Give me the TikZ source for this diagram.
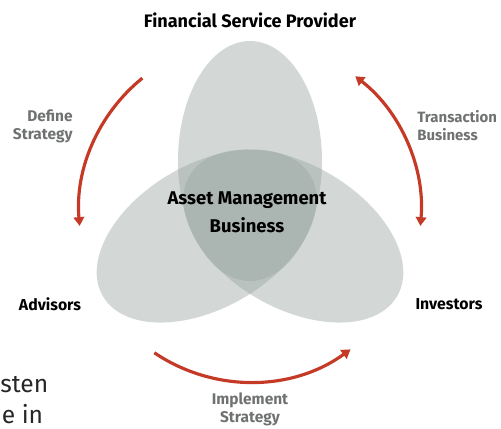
\documentclass[tikz,border=0pt]{standalone}
\usepackage{fontspec}
\setmainfont{Fira Sans}
\usetikzlibrary{positioning,arrows.meta}
\definecolor{petalgray}{RGB}{150,163,158}
\definecolor{flowred}{RGB}{196,58,38}
\definecolor{labelgray}{RGB}{112,114,114}
\tikzset{%
  >={Triangle[width=6pt,length=5pt]},
  petal/.style={fill=petalgray,fill opacity=.42},
  flow/.style={draw=flowred,line width=1.8pt,->},
  phase/.style={color=labelgray,font=\fontsize{8.8}{10.2}\selectfont\bfseries,inner sep=0pt},
  party/.style={font=\fontsize{9}{10.2}\selectfont\bfseries,inner sep=0pt},
  core/.style={font=\fontsize{10.5}{16}\selectfont\bfseries,align=center,inner sep=0pt},
  body/.style={color=black!85,font=\fontsize{14}{17}\selectfont,inner sep=0pt,anchor=west}
}

\begin{document}
\begin{tikzpicture}
  \useasboundingbox (-5.0,-4.34) rectangle (5.02,4.22);
  \coordinate (C) at (0,0);

  % three petals
  \foreach \a in {0,120,240}
    \fill[petal,rotate=\a] (0,1) ellipse (1.44 and 2.4);

  \node[core] (amb) at (-0.06,-0.02) {Asset Management\\Business};

  \node[party,font=\fontsize{10.3}{12}\selectfont\bfseries] (fsp) at (0,3.82) {Financial Service Provider};
  \node[party] (adv) at (-4.0,-1.86) {Advisors};
  \node[party] (inv) at (3.98,-1.86) {Investors};

  % cycle
  \coordinate (ds) at (129:3.42);
  \coordinate (tb) at (52:3.42);
  \coordinate (is) at (236:3.42);
  \draw[flow] (ds) arc[start angle=129,end angle=185,radius=3.42];
  \draw[flow,<->] (tb) arc[start angle=52,end angle=-5,radius=3.42];
  \draw[flow] (is) arc[start angle=236,end angle=306,radius=3.42];

  \node[phase,align=right,anchor=east] (def) at (-3.54,1.70) {Define\\Strategy};
  \node[phase,align=left,anchor=west,font=\fontsize{8.5}{10.2}\selectfont\bfseries] (tra) at (3.34,1.70) {Transaction\\Business};
  \node[phase,align=center] (imp) at (0,-3.96) {Implement\\Strategy};

  \node[body] (frag1) at (-5.0,-3.48) {sten};
  \node[body] (frag2) at (-4.97,-4.07) {e in};
\end{tikzpicture}
\end{document}
